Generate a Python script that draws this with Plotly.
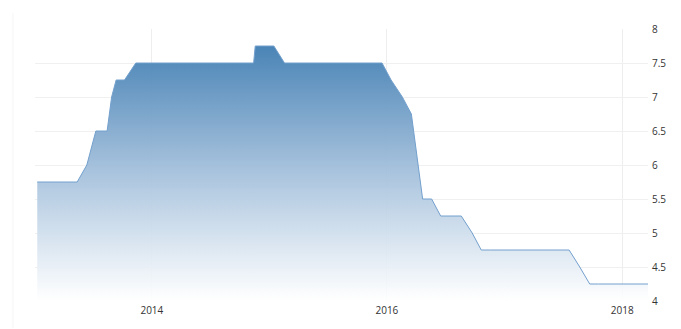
import plotly.graph_objects as go

dates = [
    "2013-01-10", "2013-02-14", "2013-03-12", "2013-04-09", "2013-05-14", "2013-06-13",
    "2013-07-11", "2013-08-15", "2013-08-29", "2013-09-12", "2013-10-08", "2013-11-12",
    "2013-12-12",
    "2014-01-14", "2014-02-13", "2014-03-13", "2014-04-08", "2014-05-13", "2014-06-12",
    "2014-07-14", "2014-08-14", "2014-09-11", "2014-10-14", "2014-11-13", "2014-11-18",
    "2014-12-11",
    "2015-01-15", "2015-02-17", "2015-03-17", "2015-04-14", "2015-05-19", "2015-06-18",
    "2015-07-14", "2015-08-18", "2015-09-17", "2015-10-15", "2015-11-17", "2015-12-17",
    "2016-01-14", "2016-02-18", "2016-03-17", "2016-04-21", "2016-05-19", "2016-06-16",
    "2016-07-21", "2016-08-19", "2016-09-22", "2016-10-20", "2016-11-17", "2016-12-15",
    "2017-01-19", "2017-02-16", "2017-03-16", "2017-04-20", "2017-05-18", "2017-06-15",
    "2017-07-20", "2017-08-22", "2017-09-22", "2017-10-19", "2017-11-16", "2017-12-14",
    "2018-01-18", "2018-02-15", "2018-03-22",
]
rates = [
    5.75, 5.75, 5.75, 5.75, 5.75, 6.00,
    6.50, 6.50, 7.00, 7.25, 7.25, 7.50,
    7.50,
    7.50, 7.50, 7.50, 7.50, 7.50, 7.50,
    7.50, 7.50, 7.50, 7.50, 7.50, 7.75,
    7.75,
    7.75, 7.50, 7.50, 7.50, 7.50, 7.50,
    7.50, 7.50, 7.50, 7.50, 7.50, 7.50,
    7.25, 7.00, 6.75, 5.50, 5.50, 5.25,
    5.25, 5.25, 5.00, 4.75, 4.75, 4.75,
    4.75, 4.75, 4.75, 4.75, 4.75, 4.75,
    4.75, 4.50, 4.25, 4.25, 4.25, 4.25,
    4.25, 4.25, 4.25,
]
y_ticks = [4, 4.5, 5, 5.5, 6, 6.5, 7, 7.5, 8]
y_tick_labels = ["4", "4.5", "5", "5.5", "6", "6.5", "7", "7.5", "8"]
x_ticks = ["2014-01-01", "2016-01-01", "2018-01-01"]
x_tick_labels = ["2014", "2016", "2018"]

fig = go.Figure()
fig.add_trace(go.Scatter(
    x=dates, y=rates, mode="lines",
    line=dict(color="rgb(115,160,205)", width=1),
    fill="tozeroy",
    fillgradient=dict(
        type="vertical", start=4, stop=7.75,
        colorscale=[[0, "rgba(255,255,255,0.9)"], [0.5, "rgba(165,193,220,0.95)"],
                    [1, "rgba(68,128,180,0.97)"]],
    ),
    hoverinfo="x+y",
))

fig.update_layout(
    width=681, height=329,
    margin=dict(l=35, r=33, t=29, b=28),
    paper_bgcolor="white", plot_bgcolor="white",
    showlegend=False,
    font=dict(family="Open Sans, DejaVu Sans, sans-serif", size=10, color="#333"),
    xaxis=dict(
        type="date", range=["2013-01-03", "2018-03-22"],
        tickmode="array", tickvals=x_ticks, ticktext=x_tick_labels,
        showgrid=True, gridcolor="#eeeeee", gridwidth=1,
        zeroline=False, showline=False, ticks="", ticklen=0,
        ticklabelstandoff=2,
        layer="above traces",
    ),
    yaxis=dict(
        range=[4, 8], side="right",
        tickmode="array", tickvals=y_ticks, ticktext=y_tick_labels,
        showgrid=True, gridcolor="#f0f0f0", gridwidth=1,
        zeroline=False, showline=False, ticks="", ticklabelstandoff=3,
        layer="above traces",
    ),
    shapes=[dict(type="line", xref="paper", yref="paper", x0=-0.036, x1=-0.036,
                 y0=-0.1, y1=1.06, line=dict(color="#f6f6f6", width=1))],
)

fig.write_html("out.html")
